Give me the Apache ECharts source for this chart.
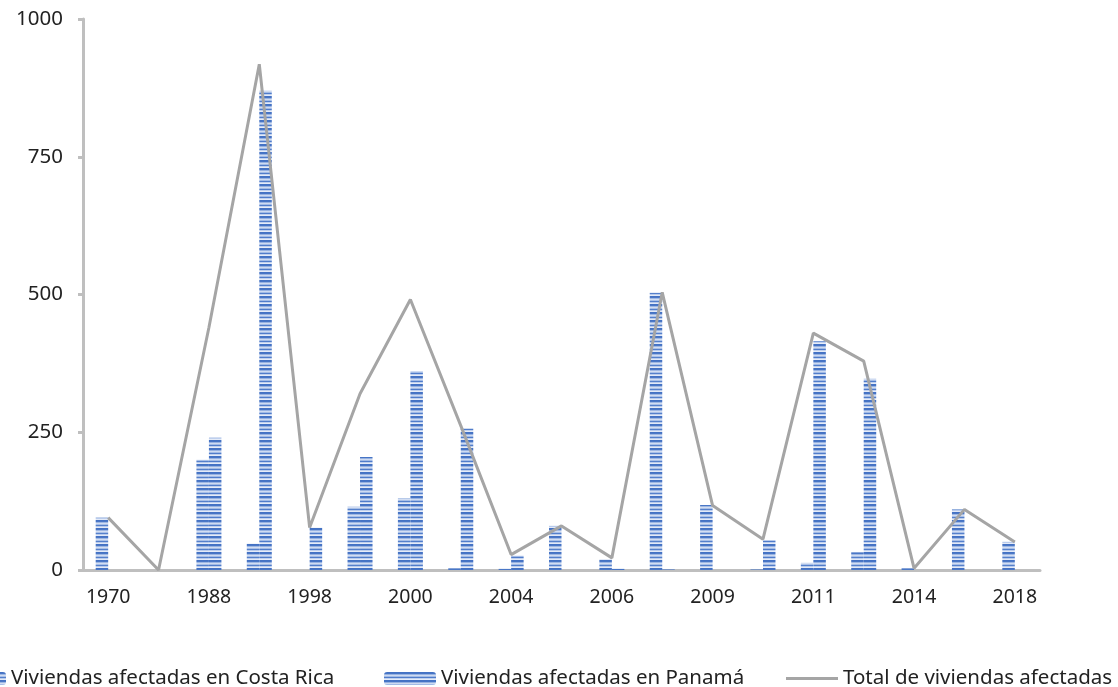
<!DOCTYPE html>
<html>
<head>
<meta charset="utf-8">
<script src="https://cdn.jsdelivr.net/npm/echarts@6/dist/echarts.min.js"></script>
<style>
  html, body { margin: 0; padding: 0; background: #fff; }
  #chart { width: 1118px; height: 687px; }
</style>
</head>
<body>
<div id="chart"></div>
<script>
// Years (every other one is labelled on the axis)
const years = ['1970', '1985', '1988', '1996', '1998', '1999', '2000', '2002', '2004', '2005',
               '2006', '2008', '2009', '2010', '2011', '2012', '2014', '2016', '2018'];
// Affected homes in Costa Rica
const costaRica = [95, 0, 200, 48, 0, 115, 130, 3, 2, 80, 20, 503, 118, 1, 13, 32, 3, 110, 51];
// Affected homes in Panamá
const panama = [0, 0, 240, 870, 77, 205, 361, 257, 26, 0, 2, 1, 0, 54, 415, 347, 0, 0, 0];
// Total affected homes
const total = [95, 0, 440, 918, 77, 320, 491, 262, 28, 80, 22, 504, 117, 56, 430, 379, 3, 110, 51];
// Value axis ticks
const yTicks = [0, 250, 500, 750, 1000];

// Horizontal stripe fill for the bars
function stripes(rows) {
  const c = document.createElement('canvas');
  c.width = 4;
  c.height = rows.length;
  const g = c.getContext('2d');
  rows.forEach((col, i) => { g.fillStyle = col; g.fillRect(0, i, 4, 1); });
  return { image: c, repeat: 'repeat' };
}
const stripeCR = stripes(['#4472c4', '#4a77c6', '#9fb8e3', '#d3def2', '#a9c0e8', '#5580cb', '#b9cbec', '#e3eaf7']);
const stripePA = stripes(['#4472c4', '#4674c5', '#97b2e1', '#cfdbf1', '#a2bbe6', '#507cca', '#bfd0ee', '#e6ecf8']);

const FONT = 'Noto Sans';
const TXT = '#222';
const legendText = { fontSize: 20.5, color: TXT, fontFamily: FONT };

const chart = echarts.init(document.getElementById('chart'));
chart.setOption({
  animation: false,
  textStyle: { fontFamily: FONT },
  grid: { left: 83, right: 78, top: 19, bottom: 117, containLabel: false },
  legend: [
    {
      data: ['Viviendas afectadas en Costa Rica'],
      left: -51, top: 663, itemWidth: 52, itemHeight: 13, itemGap: 0,
      textStyle: legendText
    },
    {
      data: ['Viviendas afectadas en Panamá'],
      left: 379, top: 663, itemWidth: 52, itemHeight: 13, itemGap: 0,
      textStyle: legendText
    },
    {
      data: [{ name: 'Total de viviendas afectadas', icon: 'rect' }],
      left: 781, top: 663, itemWidth: 52, itemHeight: 3, itemGap: 0,
      textStyle: legendText
    }
  ],
  xAxis: {
    type: 'category',
    data: years,
    boundaryGap: true,
    axisLine: { show: true, lineStyle: { color: '#bfbfbf', width: 3 } },
    axisTick: { show: false },
    axisLabel: { interval: 1, fontSize: 19.5, color: TXT, margin: 17, fontFamily: FONT },
    splitLine: { show: false }
  },
  yAxis: {
    type: 'value',
    min: yTicks[0],
    max: yTicks[yTicks.length - 1],
    interval: yTicks[1] - yTicks[0],
    axisLine: { show: true, lineStyle: { color: '#bfbfbf', width: 3 } },
    axisTick: { show: true, length: 5, lineStyle: { color: '#bfbfbf', width: 3 } },
    axisLabel: { fontSize: 20.5, color: TXT, margin: 20, fontFamily: FONT, formatter: v => String(v) },
    splitLine: { show: false }
  },
  series: [
    {
      name: 'Viviendas afectadas en Costa Rica',
      type: 'bar',
      data: costaRica,
      barWidth: 12.5,
      barGap: '0%',
      itemStyle: { color: stripeCR }
    },
    {
      name: 'Viviendas afectadas en Panamá',
      type: 'bar',
      data: panama,
      barWidth: 12.5,
      barGap: '0%',
      itemStyle: { color: stripePA }
    },
    {
      name: 'Total de viviendas afectadas',
      type: 'line',
      data: total,
      symbol: 'none',
      z: 5,
      lineStyle: { color: '#a5a5a5', width: 3 },
      itemStyle: { color: '#a5a5a5' }
    }
  ]
});
</script>
</body>
</html>
